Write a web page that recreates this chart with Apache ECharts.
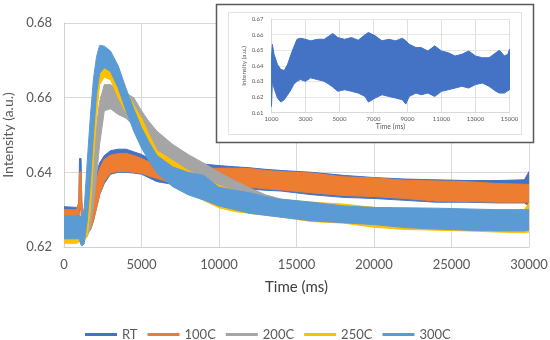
<!DOCTYPE html>
<html>
<head>
<meta charset="utf-8">
<script src="https://cdn.jsdelivr.net/npm/echarts@6/dist/echarts.min.js"></script>
<style>
html,body{margin:0;padding:0;background:#fff;}
#chart{width:550px;height:340px;}
</style>
</head>
<body>
<div id="chart"></div>
<script>
// ---- main chart data (time in ms, intensity band low/high per series) ----
const timeMs = [0, 800, 950, 1000, 1100, 1150, 1300, 1500, 1700, 1900, 2100, 2300, 2600, 3000, 3500, 4000, 4500, 5000, 5500, 6000, 7000, 8000, 9000, 10000, 11000, 12000, 13000, 14000, 16000, 18000, 20000, 22000, 24000, 26000, 28000, 29700, 30000];

const rtLow  = [0.6275,0.6275,0.628,0.630,0.630,0.624,0.6235,0.624,0.6245,0.627,0.6305,0.634,0.637,0.6395,0.640,0.640,0.6398,0.6395,0.6385,0.6375,0.6368,0.6365,0.6362,0.636,0.6358,0.6355,0.6352,0.635,0.634,0.6333,0.633,0.6325,0.632,0.632,0.6318,0.6318,0.631];
const rtHigh = [0.6308,0.6306,0.6312,0.6437,0.6437,0.632,0.6275,0.630,0.6335,0.637,0.6398,0.6425,0.6445,0.6458,0.6462,0.6462,0.6455,0.6448,0.6437,0.6428,0.6415,0.6418,0.6422,0.6418,0.6415,0.6412,0.6408,0.6405,0.640,0.6392,0.6386,0.6382,0.638,0.6378,0.6378,0.638,0.6402];

const c100Low  = [0.627,0.627,0.628,0.631,0.630,0.6245,0.6238,0.624,0.6245,0.627,0.6305,0.634,0.6375,0.6399,0.6402,0.6402,0.640,0.6397,0.639,0.6384,0.637,0.6368,0.6367,0.6366,0.6365,0.636,0.6356,0.6353,0.6345,0.6338,0.6335,0.633,0.6323,0.6322,0.632,0.632,0.632];
const c100High = [0.630,0.630,0.632,0.640,0.6402,0.632,0.627,0.6295,0.6326,0.6355,0.638,0.641,0.6435,0.6446,0.645,0.6451,0.6445,0.6437,0.6428,0.642,0.641,0.6411,0.6411,0.6411,0.6411,0.641,0.6405,0.6402,0.6398,0.6388,0.6385,0.6379,0.6377,0.6375,0.637,0.6368,0.6368];

const c200Low  = [0.6225,0.6225,0.6225,0.6225,0.622,0.621,0.6222,0.6228,0.625,0.631,0.639,0.6475,0.6565,0.657,0.6555,0.6545,0.6525,0.6495,0.647,0.6445,0.641,0.638,0.6365,0.6345,0.6335,0.632,0.631,0.6298,0.629,0.628,0.6275,0.6268,0.6262,0.6258,0.6255,0.6252,0.625];
const c200High = [0.628,0.628,0.628,0.628,0.6278,0.627,0.627,0.631,0.638,0.6465,0.6525,0.659,0.6635,0.6635,0.662,0.6612,0.660,0.6565,0.6535,0.651,0.6475,0.6448,0.6425,0.640,0.6378,0.6358,0.634,0.6328,0.6318,0.631,0.6306,0.6302,0.630,0.6298,0.6297,0.6295,0.6295];

const c250Low  = [0.621,0.621,0.6212,0.6215,0.621,0.621,0.6215,0.623,0.630,0.643,0.655,0.6635,0.6655,0.6648,0.660,0.656,0.652,0.6485,0.6455,0.6425,0.6375,0.6345,0.6325,0.6305,0.6295,0.629,0.6285,0.628,0.6268,0.6264,0.6253,0.6247,0.6245,0.6243,0.624,0.6238,0.624];
const c250High = [0.6268,0.6268,0.627,0.627,0.6265,0.626,0.627,0.636,0.648,0.659,0.6665,0.6685,0.669,0.6685,0.6655,0.662,0.658,0.6545,0.650,0.6458,0.6432,0.6405,0.6385,0.6365,0.635,0.634,0.6332,0.6328,0.632,0.6315,0.6306,0.6302,0.6298,0.6296,0.6297,0.630,0.6318];

const c300Low  = [0.6222,0.6222,0.6222,0.622,0.6205,0.6203,0.6208,0.627,0.637,0.650,0.661,0.6665,0.668,0.667,0.6625,0.6565,0.651,0.6465,0.643,0.6398,0.6362,0.634,0.6326,0.631,0.630,0.629,0.6285,0.628,0.627,0.6265,0.626,0.6252,0.6248,0.6245,0.6243,0.6243,0.6245];
const c300High = [0.6283,0.6283,0.6285,0.6285,0.628,0.6285,0.630,0.643,0.655,0.665,0.671,0.674,0.6738,0.6725,0.6685,0.6625,0.657,0.652,0.648,0.6445,0.6415,0.640,0.6392,0.636,0.6352,0.6345,0.6335,0.6328,0.632,0.631,0.6306,0.6305,0.6304,0.6302,0.630,0.630,0.630];

const seriesNames = ['RT', '100C', '200C', '250C', '300C'];
const xTicks = [0, 5000, 10000, 15000, 20000, 25000, 30000];
const yTicks = [0.62, 0.64, 0.66, 0.68];

// ---- inset data ----
const insetTime = [1000,1050,1150,1350,1550,1750,1950,2150,2300,2500,2700,3000,3300,3700,4100,4400,4600,4900,5300,5700,6100,6500,6700,7100,7500,7900,8300,8700,8900,9100,9500,9800,10200,10600,11000,11400,11800,12200,12600,13000,13400,13800,14200,14400,14700,14900,15000];
const insetHigh = [0.6452,0.6538,0.6474,0.6409,0.6377,0.637,0.641,0.6474,0.6517,0.657,0.6577,0.657,0.656,0.657,0.657,0.6592,0.6607,0.6581,0.657,0.6581,0.6564,0.6599,0.6614,0.6592,0.656,0.657,0.656,0.6577,0.656,0.6538,0.6517,0.6517,0.6495,0.6528,0.6495,0.6484,0.6463,0.6474,0.6495,0.6463,0.6452,0.6452,0.6484,0.650,0.6463,0.6474,0.6506];
const insetLow  = [0.614,0.630,0.6258,0.6194,0.6168,0.6183,0.6215,0.6247,0.628,0.6301,0.6312,0.6301,0.6323,0.6312,0.6301,0.628,0.6265,0.6237,0.6247,0.6237,0.6226,0.6204,0.6168,0.6194,0.6215,0.6204,0.6194,0.6183,0.6155,0.6204,0.6226,0.6215,0.6226,0.6204,0.6237,0.6247,0.6258,0.6269,0.6258,0.628,0.629,0.6269,0.6237,0.6226,0.6226,0.624,0.6247];
const insetXTicks = [1000, 3000, 5000, 7000, 9000, 11000, 13000, 15000];

const colors = ['#4472C4', '#ED7D31', '#A5A5A5', '#FFC000', '#5B9BD5'];
const lows = [rtLow, c100Low, c200Low, c250Low, c300Low];
const highs = [rtHigh, c100High, c200High, c250High, c300High];

function bandRender(params, api) {
  if (params.dataIndexInside !== 0) return null;
  const n = params.dataInsideLength;
  const top = [], bot = [];
  for (let j = 0; j < n; j++) {
    const t = api.value(0, j);
    top.push(api.coord([t, api.value(2, j)]));
    bot.push(api.coord([t, api.value(1, j)]));
  }
  const c = api.visual('color');
  return {
    type: 'polygon',
    shape: { points: top.concat(bot.reverse()) },
    style: { fill: c, stroke: c, lineWidth: 1 }
  };
}

const FONT = 'Lato';
const plain = v => String(v);
const series = seriesNames.map((name, k) => ({
  name: name,
  type: 'custom',
  xAxisIndex: 0, yAxisIndex: 0,
  renderItem: bandRender,
  clip: true,
  z: 2,
  itemStyle: { color: colors[k] },
  encode: { x: 0, y: [1, 2] },
  data: timeMs.map((t, i) => [t, lows[k][i], highs[k][i]])
}));

series.push({
  name: 'inset',
  type: 'custom',
  xAxisIndex: 1, yAxisIndex: 1,
  renderItem: bandRender,
  clip: true,
  z: 20,
  itemStyle: { color: '#4472C4' },
  encode: { x: 0, y: [1, 2] },
  data: insetTime.map((t, i) => [t, insetLow[i], insetHigh[i]])
});

const chart = echarts.init(document.getElementById('chart'), null, { renderer: 'canvas' });
chart.setOption({
  animation: false,
  backgroundColor: '#ffffff',
  textStyle: { fontFamily: FONT },
  grid: [
    { left: 64, right: 21, top: 23, bottom: 93, containLabel: false, outerBoundsMode: 'none' },
    { left: 271.5, right: 40.5, top: 19, bottom: 227.3, z: 15, containLabel: false, outerBoundsMode: 'none' }
  ],
  graphic: [
    { type: 'rect', z: 10, shape: { x: 216.5, y: 4.5, width: 317, height: 138 },
      style: { fill: '#ffffff', stroke: '#595959', lineWidth: 1.5 } },
    { type: 'rect', z: 11, shape: { x: 228.5, y: 12.5, width: 293, height: 122 },
      style: { fill: 'none', stroke: '#e3e3e3', lineWidth: 1 } }
  ],
  legend: {
    left: 80, top: 323,
    itemWidth: 32, itemHeight: 3, itemGap: 10,
    icon: 'rect',
    data: seriesNames,
    textStyle: { color: '#595959', fontSize: 13, fontFamily: FONT }
  },
  xAxis: [
    {
      type: 'value', gridIndex: 0, min: 0, max: 30000, interval: 5000,
      name: 'Time (ms)', nameLocation: 'middle', nameGap: 33,
      nameTextStyle: { color: '#404040', fontSize: 15, fontFamily: FONT },
      axisLine: { show: true, lineStyle: { color: '#d0d0d0', width: 1 } },
      axisTick: { show: false },
      axisLabel: { color: '#595959', fontSize: 13, margin: 11, fontFamily: FONT, formatter: plain },
      splitLine: { show: true, lineStyle: { color: '#d9d9d9', width: 1 } }
    },
    {
      type: 'value', gridIndex: 1, min: 1000, max: 15000, z: 15,
      name: 'Time (ms)', nameLocation: 'middle', nameGap: 11,
      nameTextStyle: { color: '#595959', fontSize: 7, fontFamily: FONT },
      axisLine: { show: true, lineStyle: { color: '#d9d9d9', width: 1 } },
      axisTick: { show: false, customValues: insetXTicks },
      axisLabel: { color: '#595959', fontSize: 6, margin: 3, fontFamily: FONT, customValues: insetXTicks, formatter: plain },
      splitLine: { show: true, lineStyle: { color: '#e0e0e0', width: 1 } }
    }
  ],
  yAxis: [
    {
      type: 'value', gridIndex: 0, min: 0.62, max: 0.68, interval: 0.02,
      name: 'Intensity (a.u.)', nameLocation: 'middle', nameGap: 44, nameRotate: 90,
      nameTextStyle: { color: '#595959', fontSize: 14, fontFamily: FONT },
      axisLine: { show: true, lineStyle: { color: '#d0d0d0', width: 1 } },
      axisTick: { show: false },
      axisLabel: { color: '#595959', fontSize: 13, margin: 12, fontFamily: FONT,
                   formatter: v => v.toFixed(2) },
      splitLine: { show: true, lineStyle: { color: '#d9d9d9', width: 1 } }
    },
    {
      type: 'value', gridIndex: 1, min: 0.61, max: 0.67, interval: 0.01, z: 15,
      name: 'Intensity (a.u.)', nameLocation: 'middle', nameGap: 24, nameRotate: 90,
      nameTextStyle: { color: '#595959', fontSize: 6.5, fontFamily: FONT },
      axisLine: { show: true, lineStyle: { color: '#d9d9d9', width: 1 } },
      axisTick: { show: false },
      axisLabel: { color: '#595959', fontSize: 6, margin: 8, fontFamily: FONT,
                   formatter: v => v.toFixed(2) },
      splitLine: { show: true, lineStyle: { color: '#e6e6e6', width: 1 } }
    }
  ],
  series: series
});
</script>
</body>
</html>
